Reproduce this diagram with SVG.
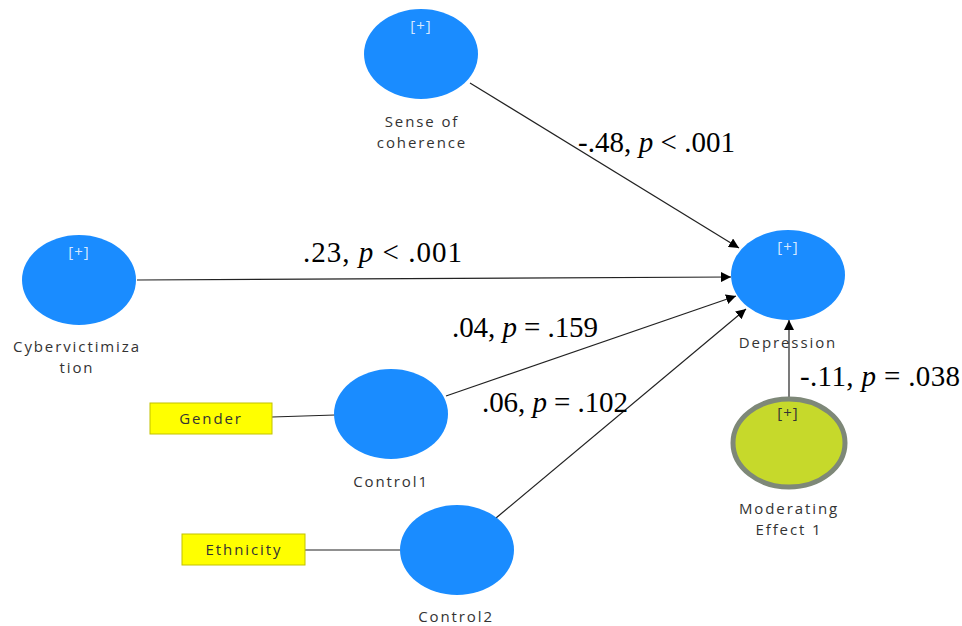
<svg xmlns="http://www.w3.org/2000/svg" width="962" height="626" viewBox="0 0 962 626">
<style>
.lv{fill:#1a8cff}
.mod{fill:#c6d92b;stroke:#7e8878;stroke-width:5}
.plus{font-family:"Open Sans","Noto Sans",sans-serif;font-size:15px;letter-spacing:1px;fill:#d6e8ff;text-anchor:middle}
.plusd{font-family:"Open Sans","Noto Sans",sans-serif;font-size:15px;letter-spacing:1px;fill:#333;text-anchor:middle}
.lbl{font-family:"Open Sans","Noto Sans",sans-serif;font-size:15px;letter-spacing:1.9px;fill:#333;text-anchor:middle}
.box{fill:#ffff00;stroke:#c2c200;stroke-width:1}
.edge{stroke:#222;stroke-width:1.2;fill:none}
.coef{font-family:"Liberation Serif","Times New Roman",serif;font-size:29px;fill:#000}
</style>
<defs>
<marker id="ah" viewBox="0 0 10 10" refX="10" refY="5" markerWidth="10" markerHeight="10" markerUnits="userSpaceOnUse" orient="auto">
<path d="M0,0 L10,5 L0,10 z" fill="#000"/>
</marker>
</defs>
<rect width="962" height="626" fill="#fff"/>
<g id="connectors">
<line class="edge" x1="470" y1="83" x2="739" y2="248" marker-end="url(#ah)"/>
<line class="edge" x1="137" y1="280" x2="731" y2="277" marker-end="url(#ah)"/>
<line class="edge" x1="446" y1="396" x2="736" y2="296" marker-end="url(#ah)"/>
<line class="edge" x1="496" y1="518" x2="746" y2="309" marker-end="url(#ah)"/>
<line class="edge" x1="789" y1="397" x2="789" y2="320" marker-end="url(#ah)"/>
<line class="edge" x1="272" y1="417" x2="335" y2="415"/>
<line class="edge" x1="305" y1="550" x2="400" y2="550"/>
</g>
<g id="sense">
<ellipse class="lv" cx="421" cy="54" rx="57" ry="45"/>
<text class="plus" x="421" y="31">[+]</text>
<text class="lbl" x="422" y="127">Sense of</text>
<text class="lbl" x="422" y="148">coherence</text>
</g>
<g id="cyber">
<ellipse class="lv" cx="79" cy="280" rx="57" ry="45"/>
<text class="plus" x="79" y="257">[+]</text>
<text class="lbl" x="77" y="352">Cybervictimiza</text>
<text class="lbl" x="77" y="373">tion</text>
</g>
<g id="depression">
<ellipse class="lv" cx="788" cy="275" rx="57" ry="45"/>
<text class="plus" x="788" y="252">[+]</text>
<text class="lbl" x="788" y="348">Depression</text>
</g>
<g id="moderating">
<ellipse class="mod" cx="789" cy="443" rx="56" ry="44"/>
<text class="plusd" x="788" y="418">[+]</text>
<text class="lbl" x="789" y="514">Moderating</text>
<text class="lbl" x="789" y="535">Effect 1</text>
</g>
<g id="control1">
<ellipse class="lv" cx="391" cy="414" rx="57" ry="45"/>
<text class="lbl" x="391" y="487">Control1</text>
</g>
<g id="control2">
<ellipse class="lv" cx="457" cy="550" rx="57" ry="45"/>
<text class="lbl" x="456" y="622">Control2</text>
</g>
<g id="gender">
<rect class="box" x="150" y="403" width="122" height="31"/>
<text class="lbl" x="211" y="424">Gender</text>
</g>
<g id="ethnicity">
<rect class="box" x="182" y="534" width="123" height="31"/>
<text class="lbl" x="244" y="555">Ethnicity</text>
</g>
<g id="labels">
<text class="coef" x="578" y="152" textLength="157" lengthAdjust="spacing">-.48, <tspan font-style="italic">p</tspan> &lt; .001</text>
<text class="coef" x="303" y="262" textLength="159" lengthAdjust="spacing">.23, <tspan font-style="italic">p</tspan> &lt; .001</text>
<text class="coef" x="452" y="337" textLength="146" lengthAdjust="spacing">.04, <tspan font-style="italic">p</tspan> = .159</text>
<text class="coef" x="482" y="412" textLength="146" lengthAdjust="spacing">.06, <tspan font-style="italic">p</tspan> = .102</text>
<text class="coef" x="800" y="386" textLength="160" lengthAdjust="spacing">-.11, <tspan font-style="italic">p</tspan> = .038</text>
</g>
</svg>
